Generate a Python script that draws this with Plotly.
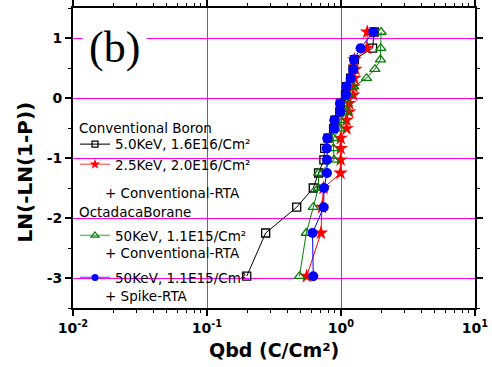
import plotly.graph_objects as go

# Weibull levels
y_levels = [-2.97, -2.25, -1.82, -1.50, -1.25, -1.03, -0.84, -0.67, -0.51, -0.37,
            -0.23, -0.09, 0.05, 0.19, 0.33, 0.48, 0.64, 0.83, 1.10]

qbd_boron_5kev = [0.198, 0.274, 0.467, 0.621, 0.68, 0.745, 0.755, 0.80, 0.88, 0.90,
                  0.98, 0.99, 1.08, 1.10, 1.18, 1.23, 1.26, 1.72, 1.77]
qbd_boron_2p5kev = [0.555, 0.709, 0.721, 0.740, 0.991, 0.995, 0.995, 0.995, 1.10, 1.10,
                    1.15, 1.15, 1.235, 1.24, 1.257, 1.28, 1.26, 1.56, 1.57]
qbd_octa_conv = [0.490, 0.551, 0.621, 0.677, 0.682, 0.887, 0.879, 0.876, 0.983, 0.983,
                 1.109, 1.109, 1.138, 1.24, 1.55, 1.79, 1.97, 1.98, 1.99]
qbd_octa_spike = [0.621, 0.613, 0.743, 0.747, 0.786, 0.786, 0.782, 0.790, 0.891, 0.891,
                  0.988, 0.983, 1.09, 1.095, 1.18, 1.235, 1.25, 1.40, 1.74]

series_names = ["5.0KeV, 1.6E16/Cm²",
                "2.5KeV, 2.0E16/Cm²",
                "50KeV, 1.1E15/Cm²",
                "50KeV, 1.1E15/Cm²"]
group_titles = ["Conventional Boron", "OctadacaBorane"]
sub_notes = ["+ Conventional-RTA", "+ Conventional-RTA", "+ Spike-RTA"]

x_tickvals = [0.01, 0.1, 1, 10]
x_ticktext = ["10<sup>-2</sup>", "10<sup>-1</sup>", "10<sup>0</sup>", "10<sup>1</sup>"]
x_minor = [m * d for d in (0.01, 0.1, 1) for m in range(2, 10)]
y_tickvals = [-3, -2, -1, 0, 1]
y_ticktext = ["-3", "-2", "-1", "0", "1"]

FONT = "DejaVu Sans"
FS = 13.5
colors = ["black", "#FF0000", "#008000", "#0000FF"]
key_line_colors = ["rgba(0,0,0,0.7)", "rgba(255,0,0,0.55)",
                   "rgba(0,128,0,0.55)", "rgba(0,0,255,0.55)"]
symbols = ["square-open", "star", "triangle-up-open", "circle"]
sizes = [8, 11, 9, 10]
leg_sizes = [6, 8, 7, 7]
legend_ids = ["legend", "legend2", "legend3", "legend4"]
all_x = [qbd_boron_5kev, qbd_boron_2p5kev, qbd_octa_conv, qbd_octa_spike]

fig = go.Figure()
for i in range(4):
    fig.add_trace(go.Scatter(
        x=all_x[i], y=y_levels, mode="lines+markers", showlegend=False,
        line=dict(color=colors[i], width=1),
        marker=dict(symbol=symbols[i], size=sizes[i], color=colors[i],
                    line=dict(width=1.3 if "open" in symbols[i] else 0))))
# legend key entries (no data, smaller symbols as in the reference key)
for i in range(4):
    fig.add_trace(go.Scatter(
        x=[None], y=[None], mode="lines+markers", name=series_names[i],
        legend=legend_ids[i], showlegend=True,
        line=dict(color=key_line_colors[i], width=1.5),
        marker=dict(symbol=symbols[i], size=leg_sizes[i], color=colors[i],
                    line=dict(width=1.2 if "open" in symbols[i] else 0))))

def key(ypos):
    return dict(x=0.005, xanchor="left", y=ypos, yanchor="top",
                bgcolor="rgba(0,0,0,0)", borderwidth=0, itemwidth=30,
                font=dict(family=FONT, size=FS, color="black"))

fig.update_layout(
    width=492, height=367,
    margin=dict(l=73, r=17, t=8, b=59, autoexpand=False),
    paper_bgcolor="white", plot_bgcolor="white",
    font=dict(family=FONT, size=FS, color="black"),
    showlegend=True,
    legend=key(0.597), legend2=key(0.530), legend3=key(0.293), legend4=key(0.153),
)

fig.update_xaxes(
    type="log", range=[-2, 1], automargin=False,
    tickmode="array", tickvals=x_tickvals, ticktext=x_ticktext,
    tickfont=dict(family=FONT, size=14, weight="bold"),
    ticks="outside", ticklen=6, tickwidth=1.5, tickcolor="black",
    minor=dict(tickmode="array", tickvals=x_minor, ticks="outside", ticklen=3,
               tickcolor="black", tickwidth=1, showgrid=False),
    showline=True, linecolor="black", linewidth=2, mirror="ticks",
    showgrid=True, gridcolor="#FF00FF", gridwidth=1, zeroline=False,
)
fig.update_yaxes(
    range=[-3.5, 1.5], automargin=False,
    tickmode="array", tickvals=y_tickvals, ticktext=y_ticktext,
    tickfont=dict(family=FONT, size=14, weight="bold"),
    ticks="outside", ticklen=6, tickwidth=1.5, tickcolor="black",
    minor=dict(tickmode="linear", tick0=0, dtick=0.5, ticks="outside", ticklen=3,
               tickcolor="black", tickwidth=1, showgrid=False),
    showline=True, linecolor="black", linewidth=2, mirror="ticks",
    showgrid=True, gridcolor="#FF00FF", gridwidth=1,
    zeroline=True, zerolinecolor="#FF00FF", zerolinewidth=1,
)

# "(b)" panel label
fig.add_annotation(xref="paper", yref="paper", x=0.103, y=0.867,
                   xanchor="center", yanchor="middle",
                   text="(b)", showarrow=False, bgcolor="white", borderpad=6,
                   font=dict(family="Liberation Serif", size=44, color="black"))
# axis titles
fig.add_annotation(xref="paper", yref="paper", x=-0.117, y=0.455,
                   xanchor="center", yanchor="middle",
                   text="LN(-LN(1-P))", textangle=-90, showarrow=False,
                   font=dict(family=FONT, size=20, weight="bold", color="black"))
fig.add_annotation(xref="paper", yref="paper", x=0.5, y=-0.14,
                   xanchor="center", yanchor="middle",
                   text="Qbd (C/Cm²)", showarrow=False,
                   font=dict(family=FONT, size=19, weight="bold", color="black"))
# key group headers
for (hx, hy), txt in zip([(0.01, 0.600), (0.01, 0.320)], group_titles):
    fig.add_annotation(xref="paper", yref="paper", x=hx, y=hy, xanchor="left",
                       yanchor="middle", text=txt, showarrow=False,
                       font=dict(family=FONT, size=FS, color="black"))
# sub-notes of key entries
note_pos = [(0.075, 0.383), (0.075, 0.183), (0.075, 0.040)]
for (nx, ny), txt in zip(note_pos, sub_notes):
    fig.add_annotation(xref="paper", yref="paper", x=nx, y=ny, xanchor="left",
                       yanchor="middle", text=txt, showarrow=False,
                       font=dict(family=FONT, size=FS, color="black"))

fig.write_html("out.html", config={"displayModeBar": False},
               post_script="document.body.style.margin='0px';")
